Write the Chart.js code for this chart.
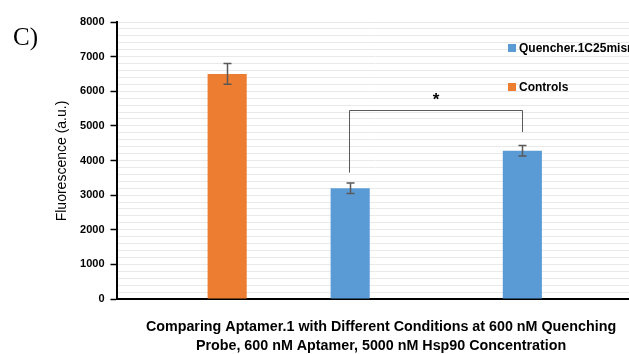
<!DOCTYPE html>
<html>
<head>
<meta charset="utf-8">
<script src="https://cdn.jsdelivr.net/npm/chart.js@4"></script>
<style>
html,body{margin:0;padding:0;background:#fff;}
#wrap{width:629px;height:354px;position:relative;overflow:hidden;}
</style>
</head>
<body>
<div id="wrap"><canvas id="c" width="633" height="354"></canvas></div>
<script>
const categories = ['', '', ''];
const quencherLabel = 'Quencher.1C25mismatch';
const controlsLabel = 'Controls';
const quencherValues = [null, 3200, 4280];
const quencherErrors = [null, 150, 150];
const controlsValues = [6500, null, null];
const controlsErrors = [300, null, null];
const yTickLabels = [0, 1000, 2000, 3000, 4000, 5000, 6000, 7000, 8000];
const yTitle = 'Fluorescence (a.u.)';
const xTitleLines = ['Comparing Aptamer.1 with Different Conditions at 600 nM Quenching', 'Probe, 600 nM Aptamer, 5000 nM Hsp90 Concentration'];
const panelLabel = 'C)';
const sigBracket = {from: 1, to: 2, top: 5450, leftBottom: 3650, rightBottom: 4820, mark: '*'};

const BLUE = '#5B9BD5', ORANGE = '#ED7D31';

const extras = {
  id: 'extras',
  afterDatasetsDraw(chart) {
    const ctx = chart.ctx, ys = chart.scales.y;
    ctx.save();
    chart.data.datasets.forEach((ds, di) => {
      const meta = chart.getDatasetMeta(di);
      ds.errors.forEach((e, i) => {
        if (e == null || ds.data[i] == null) return;
        const bar = meta.data[i];
        const x = Math.round(bar.x) + 0.5;
        const y1 = ys.getPixelForValue(ds.data[i] + e);
        const y2 = ys.getPixelForValue(ds.data[i] - e);
        ctx.strokeStyle = '#595959';
        ctx.lineWidth = 1.5;
        ctx.beginPath();
        ctx.moveTo(x, y1); ctx.lineTo(x, y2);
        ctx.moveTo(x - 4, y1); ctx.lineTo(x + 4, y1);
        ctx.moveTo(x - 4, y2); ctx.lineTo(x + 4, y2);
        ctx.stroke();
      });
    });
    const m0 = chart.getDatasetMeta(0);
    const xa = Math.round(m0.data[sigBracket.from].x) - 0.5;
    const xb = Math.round(m0.data[sigBracket.to].x) + 0.5;
    const yt = Math.round(ys.getPixelForValue(sigBracket.top)) + 0.5;
    ctx.strokeStyle = '#595959';
    ctx.lineWidth = 1;
    ctx.beginPath();
    ctx.moveTo(xa, ys.getPixelForValue(sigBracket.leftBottom));
    ctx.lineTo(xa, yt);
    ctx.lineTo(xb, yt);
    ctx.lineTo(xb, ys.getPixelForValue(sigBracket.rightBottom));
    ctx.stroke();
    ctx.fillStyle = '#000';
    ctx.font = 'bold 17px "Liberation Sans"';
    ctx.textAlign = 'center';
    ctx.textBaseline = 'middle';
    ctx.fillText(sigBracket.mark, (xa + xb) / 2, yt - 10);
    const items = [[quencherLabel, BLUE, 48], [controlsLabel, ORANGE, 87]];
    ctx.font = 'bold 12px "Liberation Sans"';
    ctx.textAlign = 'left';
    items.forEach(([t, c, y]) => {
      ctx.fillStyle = c;
      ctx.fillRect(508, y - 4, 8, 8);
      ctx.fillStyle = '#000';
      ctx.fillText(t, 519, y + 0.5);
    });
    ctx.restore();
  },
  afterDraw(chart) {
    const ctx = chart.ctx;
    ctx.save();
    ctx.fillStyle = '#000';
    ctx.font = '25px "Liberation Serif"';
    ctx.textAlign = 'left';
    ctx.textBaseline = 'middle';
    ctx.fillText(panelLabel, 13, 38);
    ctx.font = 'bold 14.3px "Liberation Sans"';
    ctx.textAlign = 'center';
    ctx.fillText(xTitleLines[0], 381, 327);
    ctx.fillText(xTitleLines[1], 381, 346);
    ctx.translate(62, 161);
    ctx.rotate(-Math.PI / 2);
    ctx.font = '14px "Liberation Sans"';
    ctx.fillText(yTitle, 0, 0);
    ctx.restore();
  }
};

new Chart(document.getElementById('c'), {
  type: 'bar',
  data: {
    labels: categories,
    datasets: [
      {label: quencherLabel, data: quencherValues, errors: quencherErrors, backgroundColor: BLUE, categoryPercentage: 0.571, barPercentage: 0.796},
      {label: controlsLabel, data: controlsValues, errors: controlsErrors, backgroundColor: ORANGE, categoryPercentage: 0.571, barPercentage: 0.796}
    ]
  },
  options: {
    responsive: false,
    animation: false,
    layout: {padding: {top: 22, right: 0, left: 0, bottom: 0}},
    plugins: {legend: {display: false}, tooltip: {enabled: false}},
    scales: {
      x: {
        ticks: {display: false},
        grid: {display: false, drawTicks: false},
        border: {display: true, color: '#000', width: 2},
        afterFit(s) { s.height = 55; }
      },
      y: {
        min: yTickLabels[0],
        max: yTickLabels[yTickLabels.length - 1],
        ticks: {
          stepSize: 200,
          autoSkip: false,
          color: '#000',
          padding: 6,
          font: {family: 'Liberation Sans', weight: 'bold', size: 11},
          callback: (v) => yTickLabels.includes(v) ? String(v) : ''
        },
        grid: {
          color: (c) => c.tick && c.tick.value === 0 ? 'rgba(0,0,0,0)' : '#e9e9e9',
          lineWidth: 1,
          tickLength: 6,
          tickColor: (c) => c.tick && yTickLabels.includes(c.tick.value) ? '#000' : 'rgba(0,0,0,0)',
          tickWidth: 1.5
        },
        border: {display: true, color: '#000', width: 2},
        afterFit(s) { s.width = 116.5; }
      }
    }
  },
  plugins: [extras]
});
</script>
</body>
</html>
